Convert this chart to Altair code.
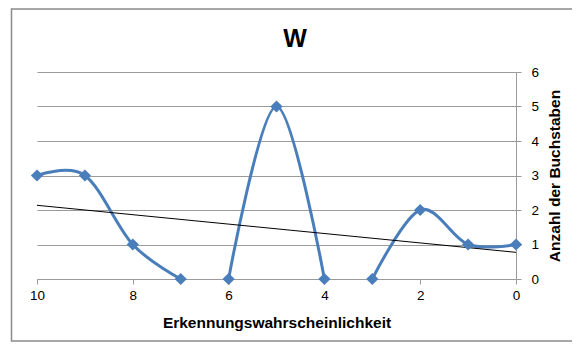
import altair as alt
import pandas as pd

# Data
x_vals = [10, 9, 8, 7, 6, 5, 4, 3, 2, 1, 0]
y_vals = [3, 3, 1, 0, 0, 5, 0, 0, 2, 1, 1]
segment = [1, 1, 1, 1, 2, 2, 2, 3, 3, 3, 3]
x_ticks = [10, 8, 6, 4, 2, 0]
y_ticks = [0, 1, 2, 3, 4, 5, 6]
title_text = "W"
x_title = "Erkennungswahrscheinlichkeit"
y_title = "Anzahl der Buchstaben"

df = pd.DataFrame({"x": x_vals, "y": y_vals, "seg": segment})

FONT = "Liberation Sans"
BLUE = "#4A7EBB"
GRID = "#9a9a9a"

xscale = alt.Scale(domain=[0, 10], reverse=True, nice=False, zero=False)
yscale = alt.Scale(domain=[0, 6], nice=False)

xaxis = alt.Axis(
    values=x_ticks, grid=False, domainColor=GRID, tickColor=GRID, tickSize=5,
    labelPadding=4, labelFontSize=13.5, labelColor="black", labelFont=FONT,
    title=x_title, titleFont=FONT, titleFontSize=15.5, titleFontWeight="bold",
    titlePadding=14, titleColor="black", labelFlush=False, labelOverlap=False,
)
yaxis = alt.Axis(
    orient="right", values=y_ticks, grid=True, gridColor=GRID, domainColor=GRID,
    tickColor=GRID, tickSize=5, labelPadding=10, labelFontSize=13.5,
    labelColor="black", labelFont=FONT, title=y_title, titleFont=FONT,
    titleFontSize=15.5, titleFontWeight="bold", titleColor="black",
    titleAngle=270, titleAlign="center", titleBaseline="middle",
    titleX=38, titleY=103.5, labelFlush=False, labelOverlap=False,
)

X = alt.X("x:Q", scale=xscale, axis=xaxis)
Y = alt.Y("y:Q", scale=yscale, axis=yaxis)

base = alt.Chart(df)

line = base.mark_line(
    interpolate="cardinal", color=BLUE, strokeWidth=3
).encode(x=X, y=Y, detail="seg:N")

points = base.mark_point(
    shape="diamond", filled=True, color=BLUE, size=150, opacity=1
).encode(x=X, y=Y)

trend = base.transform_regression(
    "x", "y", extent=[0, 10]
).mark_line(color="black", strokeWidth=1).encode(x=X, y=Y)

border = alt.Chart(alt.Data(values=[{}])).mark_rect(
    fill="transparent", stroke="#8a8a8a", strokeWidth=1.5, clip=False
).encode(
    x=alt.value(-25.5), x2=alt.value(600),
    y=alt.value(-63), y2=alt.value(269),
)

title = alt.Chart(alt.Data(values=[{}])).mark_text(
    text=title_text, font=FONT, fontSize=25, fontWeight="bold",
    color="black", align="center", baseline="alphabetic",
).encode(x=alt.value(258), y=alt.value(-25))

chart = alt.layer(line, trend, points, border, title).properties(
    width=479, height=207,
    padding={"left": 29, "top": 64, "right": 56, "bottom": 63},
    autosize=alt.AutoSizeParams(type="none"),
    background="white",
).configure_view(stroke=None)

chart.save("out.html", embed_options={"renderer": "svg", "actions": False})
